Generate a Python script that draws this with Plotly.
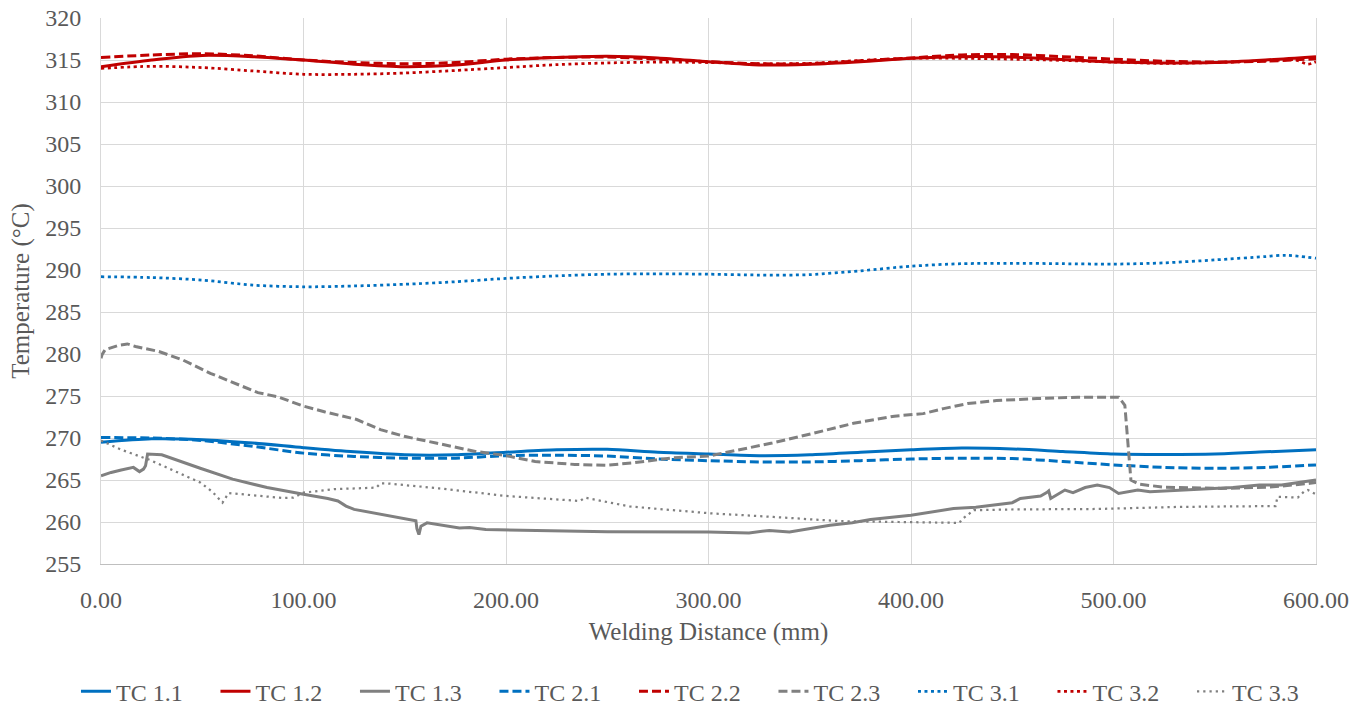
import plotly.graph_objects as go

# Thermocouple temperatures along the weld (x in mm, temperature in °C)
x_smooth = [0, 25, 50, 75, 100, 125, 150, 175, 200, 225, 250, 275, 300,
            325, 350, 375, 400, 425, 450, 475, 500, 525, 550, 575, 600]

tc11 = [269.5, 269.9, 269.8, 269.4, 268.85, 268.35, 268.0, 268.0, 268.3, 268.6,
        268.65, 268.3, 268.1, 267.9, 268.0, 268.3, 268.6, 268.8, 268.7, 268.4,
        268.1, 268.05, 268.1, 268.35, 268.6]
tc12 = [314.2, 315.0, 315.55, 315.4, 315.0, 314.5, 314.2, 314.4, 315.0, 315.3,
        315.45, 315.25, 314.8, 314.4, 314.5, 314.8, 315.2, 315.4, 315.35, 315.05,
        314.75, 314.65, 314.7, 315.0, 315.4]
tc21 = [270.05, 270.0, 269.7, 269.0, 268.2, 267.8, 267.6, 267.6, 267.9, 267.95,
        267.85, 267.5, 267.3, 267.15, 267.15, 267.3, 267.5, 267.6, 267.55, 267.2,
        266.8, 266.5, 266.4, 266.5, 266.8]
tc22 = [315.3, 315.6, 315.75, 315.5, 315.0, 314.7, 314.55, 314.7, 315.1, 315.3,
        315.35, 315.1, 314.8, 314.55, 314.55, 314.9, 315.25, 315.6, 315.65, 315.4,
        315.1, 314.85, 314.75, 314.85, 315.15]

x_tc31 = [0, 25, 50, 75, 100, 125, 150, 175, 200, 225, 250, 275, 300, 325, 350,
          375, 400, 425, 450, 475, 500, 525, 550, 575, 585, 600]
tc31 = [289.2, 289.1, 288.8, 288.2, 288.0, 288.1, 288.3, 288.6, 289.0, 289.3,
        289.5, 289.55, 289.5, 289.4, 289.45, 289.9, 290.45, 290.75, 290.8, 290.75,
        290.7, 290.85, 291.2, 291.6, 291.75, 291.4]

x_tc32 = [0, 25, 50, 75, 100, 125, 150, 175, 200, 225, 250, 275, 300, 325, 350,
          375, 400, 425, 450, 475, 500, 525, 550, 575, 590, 596, 600]
tc32 = [314.0, 314.25, 314.1, 313.7, 313.3, 313.3, 313.45, 313.75, 314.1, 314.45,
        314.65, 314.75, 314.7, 314.55, 314.6, 314.95, 315.2, 315.2, 315.1, 314.95,
        314.75, 314.6, 314.7, 314.9, 315.0, 314.5, 314.8]

x_tc13 = [0, 5, 10, 16, 19, 21, 22, 23, 30, 40, 49, 65, 82, 100, 112, 117, 121,
          125, 140, 155.5, 156, 157, 158, 161, 177, 182, 190, 200, 250, 300, 320,
          330, 340, 360, 371, 380, 400, 421, 432, 440, 450, 454, 464, 467, 468,
          469, 472, 476, 480, 486, 492, 498, 502.5, 512, 518, 533, 559, 572, 583,
          594, 600]
tc13 = [265.5, 265.9, 266.2, 266.5, 266.0, 266.3, 266.7, 268.1, 268.0, 267.2,
        266.4, 265.1, 264.1, 263.3, 262.8, 262.5, 261.9, 261.5, 260.8, 260.15,
        259.2, 258.5, 259.5, 259.9, 259.3, 259.35, 259.1, 259.05, 258.85, 258.8,
        258.7, 259.0, 258.8, 259.6, 259.9, 260.3, 260.8, 261.6, 261.75, 262.0,
        262.3, 262.8, 263.1, 263.5, 263.7, 262.8, 263.2, 263.8, 263.5, 264.1,
        264.4, 264.1, 263.4, 263.8, 263.6, 263.8, 264.1, 264.4, 264.4, 264.8,
        265.0]

x_tc23 = [0, 0.5, 2, 9, 13, 17, 28.6, 40.3, 54, 67.8, 77.5, 87.3, 100, 110.7,
          126.3, 138, 149.7, 165.4, 184.9, 200, 214.4, 234, 249.5, 263, 282.6,
          300, 311, 331.4, 351.5, 371.6, 391.8, 406, 416, 428, 442.2, 462.3,
          482.5, 502.6, 505.6, 507, 508.6, 512.6, 524.7, 553, 577, 597, 600]
tc23 = [279.5, 279.9, 280.5, 281.05, 281.2, 280.9, 280.3, 279.3, 277.7, 276.3,
        275.4, 274.9, 273.8, 273.1, 272.2, 271.0, 270.2, 269.4, 268.4, 267.9,
        267.2, 266.85, 266.75, 267.05, 267.65, 267.85, 268.4, 269.4, 270.55,
        271.75, 272.6, 272.9, 273.5, 274.1, 274.45, 274.7, 274.85, 274.85, 273.9,
        269.4, 265.0, 264.5, 264.15, 264.0, 264.15, 264.6, 264.7]

x_tc33 = [0, 10, 24, 35, 49, 55, 60, 63, 71, 90, 95, 100, 115, 136, 138, 141,
          167, 200, 236.5, 239, 261, 300, 332, 365, 394, 424, 425, 431, 452, 492,
          533, 580, 581, 591, 594, 596, 600]
tc33 = [269.7, 268.6, 267.4, 266.2, 264.7, 263.6, 262.3, 263.45, 263.25, 262.85,
        262.9, 263.5, 263.9, 264.1, 264.6, 264.6, 264.0, 263.1, 262.5, 262.9,
        261.85, 261.05, 260.6, 260.1, 260.0, 259.9, 260.3, 261.4, 261.5, 261.55,
        261.8, 261.9, 263.0, 262.9, 263.6, 263.8, 263.3]

BLUE = "#0070C0"
RED = "#C00000"
GRAY = "#808080"
DASH = "9px,4px"
DOT = "3px,3.5px"

series = [
    ("TC 1.1", x_smooth, tc11, BLUE, "solid", 3, "spline"),
    ("TC 1.2", x_smooth, tc12, RED, "solid", 3, "spline"),
    ("TC 1.3", x_tc13, tc13, GRAY, "solid", 3, "linear"),
    ("TC 2.1", x_smooth, tc21, BLUE, DASH, 3, "spline"),
    ("TC 2.2", x_smooth, tc22, RED, DASH, 3, "spline"),
    ("TC 2.3", x_tc23, tc23, GRAY, DASH, 3, "linear"),
    ("TC 3.1", x_tc31, tc31, BLUE, DOT, 2.75, "spline"),
    ("TC 3.2", x_tc32, tc32, RED, DOT, 2.75, "spline"),
    ("TC 3.3", x_tc33, tc33, GRAY, "2.25px,4px", 2.25, "linear"),
]

fig = go.Figure()
for name, xs, ys, color, dash, width, shape in series:
    fig.add_trace(go.Scatter(
        x=xs, y=ys, name=name, mode="lines",
        line=dict(color=color, dash=dash, width=width, shape=shape,
                  smoothing=0.8 if shape == "spline" else None),
    ))

FONT = "'Liberation Serif', 'Liberation Sans', sans-serif"
TEXT = "#595959"

fig.update_layout(
    width=1365, height=708,
    margin=dict(l=101, r=49, t=18, b=144, autoexpand=False),
    plot_bgcolor="white", paper_bgcolor="white",
    font=dict(family=FONT, color=TEXT, size=24),
    showlegend=True,
    legend=dict(
        orientation="h", xref="paper", yref="paper",
        x=-0.0206, xanchor="left", y=-0.234, yanchor="middle",
        font=dict(family=FONT, size=24, color=TEXT),
        entrywidth=94.5, traceorder="normal",
        bgcolor="rgba(0,0,0,0)",
    ),
    xaxis=dict(
        range=[0, 600], dtick=100, tick0=0, tickformat=".2f",
        showgrid=True, gridcolor="#D9D9D9", gridwidth=1,
        showline=True, linecolor="#BFBFBF", linewidth=1,
        zeroline=False, ticks="", ticklabelstandoff=14,
        tickfont=dict(family=FONT, size=24, color=TEXT),
        title=dict(text="Welding Distance (mm)", standoff=10,
                   font=dict(family=FONT, size=25, color=TEXT)),
    ),
    yaxis=dict(
        range=[255, 320], dtick=5, tick0=255,
        showgrid=True, gridcolor="#D9D9D9", gridwidth=1,
        showline=True, linecolor="#D9D9D9", linewidth=1, mirror=True,
        zeroline=False, ticks="", ticklabelstandoff=14,
        tickfont=dict(family=FONT, size=24, color=TEXT),
        title=dict(text="Temperature (°C)", standoff=8,
                   font=dict(family=FONT, size=25, color=TEXT)),
    ),
)

fig.write_html("out.html")
